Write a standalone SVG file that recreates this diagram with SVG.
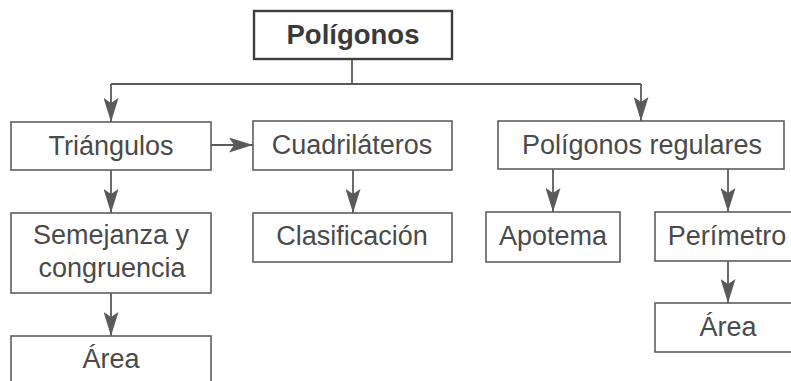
<svg xmlns="http://www.w3.org/2000/svg" width="791" height="381" viewBox="0 0 791 381">
<style>
.box{fill:#fff;stroke:#5e5e5e;stroke-width:1.6}
.title{fill:#fff;stroke:#3e3e3e;stroke-width:2.4}
.t{font-family:"Liberation Sans",Arial,sans-serif;font-size:27px;fill:#4a4a4a;text-anchor:middle}
.tb{font-family:"Liberation Sans",Arial,sans-serif;font-size:27.5px;font-weight:bold;fill:#3a3a3a;text-anchor:middle}
.c{fill:none;stroke:#5a5a5a;stroke-width:1.8}
</style>
<defs>
<marker id="ah" viewBox="0 0 24 15" refX="24" refY="7.5" markerWidth="24" markerHeight="15" markerUnits="userSpaceOnUse" orient="auto">
<path d="M0,0 L24,7.5 L0,15 L5,7.5 Z" fill="#5a5a5a"/>
</marker>
</defs>
<rect width="791" height="381" fill="#fff"/>
<g id="connectors">
<path class="c" d="M352,59 V84"/>
<path class="c" d="M111,84 H641"/>
<path class="c" d="M111,84 V122" marker-end="url(#ah)"/>
<path class="c" d="M641,84 V121" marker-end="url(#ah)"/>
<path class="c" d="M211,145 H253" marker-end="url(#ah)"/>
<path class="c" d="M111,170 V213" marker-end="url(#ah)"/>
<path class="c" d="M353,170 V213" marker-end="url(#ah)"/>
<path class="c" d="M553,169 V212" marker-end="url(#ah)"/>
<path class="c" d="M728,169 V212" marker-end="url(#ah)"/>
<path class="c" d="M111,293 V336" marker-end="url(#ah)"/>
<path class="c" d="M728,261 V303" marker-end="url(#ah)"/>
</g>
<g id="poligonos">
<rect class="title" x="254" y="11" width="198" height="48"/>
<text class="tb" x="353" y="44">Polígonos</text>
</g>
<g id="triangulos">
<rect class="box" x="11" y="122" width="200" height="48"/>
<text class="t" x="111" y="155">Triángulos</text>
</g>
<g id="cuadrilateros">
<rect class="box" x="253" y="121" width="199" height="49"/>
<text class="t" x="352" y="154">Cuadriláteros</text>
</g>
<g id="poligonos-regulares">
<rect class="box" x="498" y="121" width="286" height="48"/>
<text class="t" x="642" y="154">Polígonos regulares</text>
</g>
<g id="semejanza">
<rect class="box" x="11" y="213" width="200" height="80"/>
<text class="t" x="111" y="244">Semejanza y</text>
<text class="t" x="112" y="277">congruencia</text>
</g>
<g id="clasificacion">
<rect class="box" x="253" y="213" width="199" height="49"/>
<text class="t" x="352" y="245">Clasificación</text>
</g>
<g id="apotema">
<rect class="box" x="486" y="212" width="134" height="50"/>
<text class="t" x="553" y="245">Apotema</text>
</g>
<g id="perimetro">
<rect class="box" x="655" y="212" width="150" height="49"/>
<text class="t" x="727" y="245">Perímetro</text>
</g>
<g id="area-right">
<rect class="box" x="655" y="303" width="150" height="49"/>
<text class="t" x="728" y="336">Área</text>
</g>
<g id="area-left">
<rect class="box" x="11" y="336" width="200" height="55"/>
<text class="t" x="111" y="368">Área</text>
</g>
</svg>
